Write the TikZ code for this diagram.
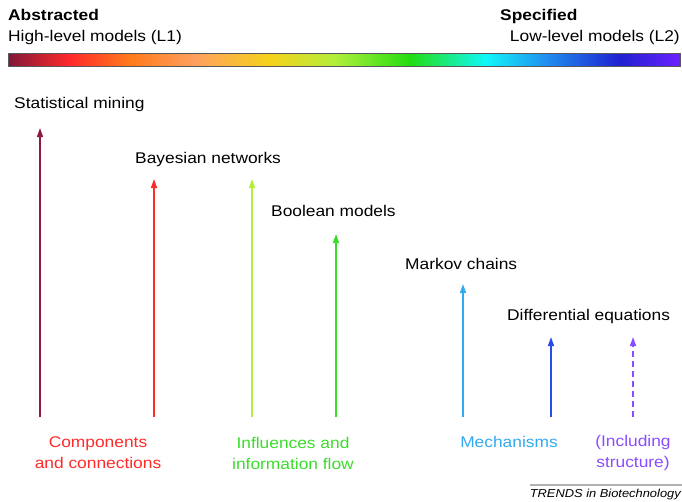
\documentclass[tikz,border=0pt]{standalone}
\usepackage{fontspec}
\setmainfont{Liberation Sans}[FakeStretch=1.12]
\usetikzlibrary{arrows.meta}
\definecolor{cMaroon}{HTML}{8E1A3C}
\definecolor{cRed}{HTML}{FF2A2A}
\definecolor{cLime}{HTML}{B2EE3A}
\definecolor{cGreen}{HTML}{3ADD2A}
\definecolor{cSky}{HTML}{33AAF0}
\definecolor{cBlue}{HTML}{2a4BE8}
\definecolor{cViolet}{HTML}{8A4CFF}
\definecolor{cOrange}{HTML}{FF7A1A}
\definecolor{cSalmon}{HTML}{FFA060}
\definecolor{cYellow}{HTML}{F5D21A}
\definecolor{cGrn}{HTML}{22DD10}
\definecolor{cCyan}{HTML}{10F8F8}
\definecolor{cLB}{HTML}{2090F0}
\definecolor{cDB}{HTML}{2020D0}
\definecolor{cPur}{HTML}{6A20FF}
\tikzset{
  lbl/.style={font=\fontsize{15.5}{18}\selectfont, anchor=base west, inner sep=0pt},
  cat/.style={font=\fontsize{15.5}{21}\selectfont, align=center, inner sep=0pt},
  up/.style={line width=1.5pt, -{Triangle[width=6pt,length=9pt]}},
}
\begin{document}
\begin{tikzpicture}[x=1pt,y=-1pt]
\useasboundingbox (0,0) rectangle (682,501);
% header
\node[lbl, font=\fontsize{15.5}{18}\selectfont\bfseries] (abs) at (8,20) {Abstracted};
\node[lbl] (hl) at (8,41) {High-level models (L1)};
\node[lbl, anchor=base west, font=\fontsize{15.5}{18}\selectfont\bfseries] (spec) at (500,20) {Specified};
\node[lbl, anchor=base east] (ll) at (680,41) {Low-level models (L2)};
% colour bar
\def\barseg#1#2#3#4{\shade[left color=#3, right color=#4] (#1,53) rectangle (#2,66);}
\barseg{8}{70}{cMaroon!90!black}{cRed}
\barseg{70}{130}{cRed}{cOrange}
\barseg{130}{195}{cOrange}{cSalmon}
\barseg{195}{270}{cSalmon}{cYellow}
\barseg{270}{335}{cYellow}{cLime}
\barseg{335}{410}{cLime}{cGrn}
\barseg{410}{485}{cGrn}{cCyan}
\barseg{485}{545}{cCyan}{cLB}
\barseg{545}{620}{cLB}{cDB}
\barseg{620}{680}{cDB}{cPur}
\draw[gray!70!black, line width=0.6pt] (8,53) rectangle (680,66);
% arrows
\coordinate (b1) at (40,417);   \coordinate (t1) at (40,128);
\coordinate (b2) at (154,417);  \coordinate (t2) at (154,179);
\coordinate (b3) at (252,417);  \coordinate (t3) at (252,179);
\coordinate (b4) at (336,417);  \coordinate (t4) at (336,234);
\coordinate (b5) at (463,417);  \coordinate (t5) at (463,284);
\coordinate (b6) at (551,417);  \coordinate (t6) at (551,337);
\coordinate (b7) at (633,417);  \coordinate (t7) at (633,337);
\draw[up, cMaroon] (b1) -- (t1);
\draw[up, cRed] (b2) -- (t2);
\draw[up, cLime] (b3) -- (t3);
\draw[up, cGreen] (b4) -- (t4);
\draw[up, cSky] (b5) -- (t5);
\draw[up, cBlue] (b6) -- (t6);
\draw[up, cViolet, dash pattern=on 6pt off 4pt] (b7) -- (t7);
% method labels
\node[lbl] (sm) at (14,108) {Statistical mining};
\node[lbl] (bn) at (135,163) {Bayesian networks};
\node[lbl] (bm) at (271,216) {Boolean models};
\node[lbl] (mc) at (405,269) {Markov chains};
\node[lbl] (de) at (507,320) {Differential equations};
% categories
\node[cat, text=cRed] (cc) at (98,453) {Components\\and connections};
\node[cat, text=cGreen] (if) at (293,453) {Influences and\\information flow};
\node[cat, text=cSky, anchor=base] (me) at (509,447) {Mechanisms};
\node[cat, text=cViolet] (is) at (633,453) {(Including\\structure)};
% footer
\draw[gray!60, line width=1.2pt] (530,485) -- (682,485);
\node[lbl, anchor=base east, font=\fontsize{11.5}{13}\selectfont\itshape] (tr) at (681,497) {TRENDS in Biotechnology};
\end{tikzpicture}
\end{document}
